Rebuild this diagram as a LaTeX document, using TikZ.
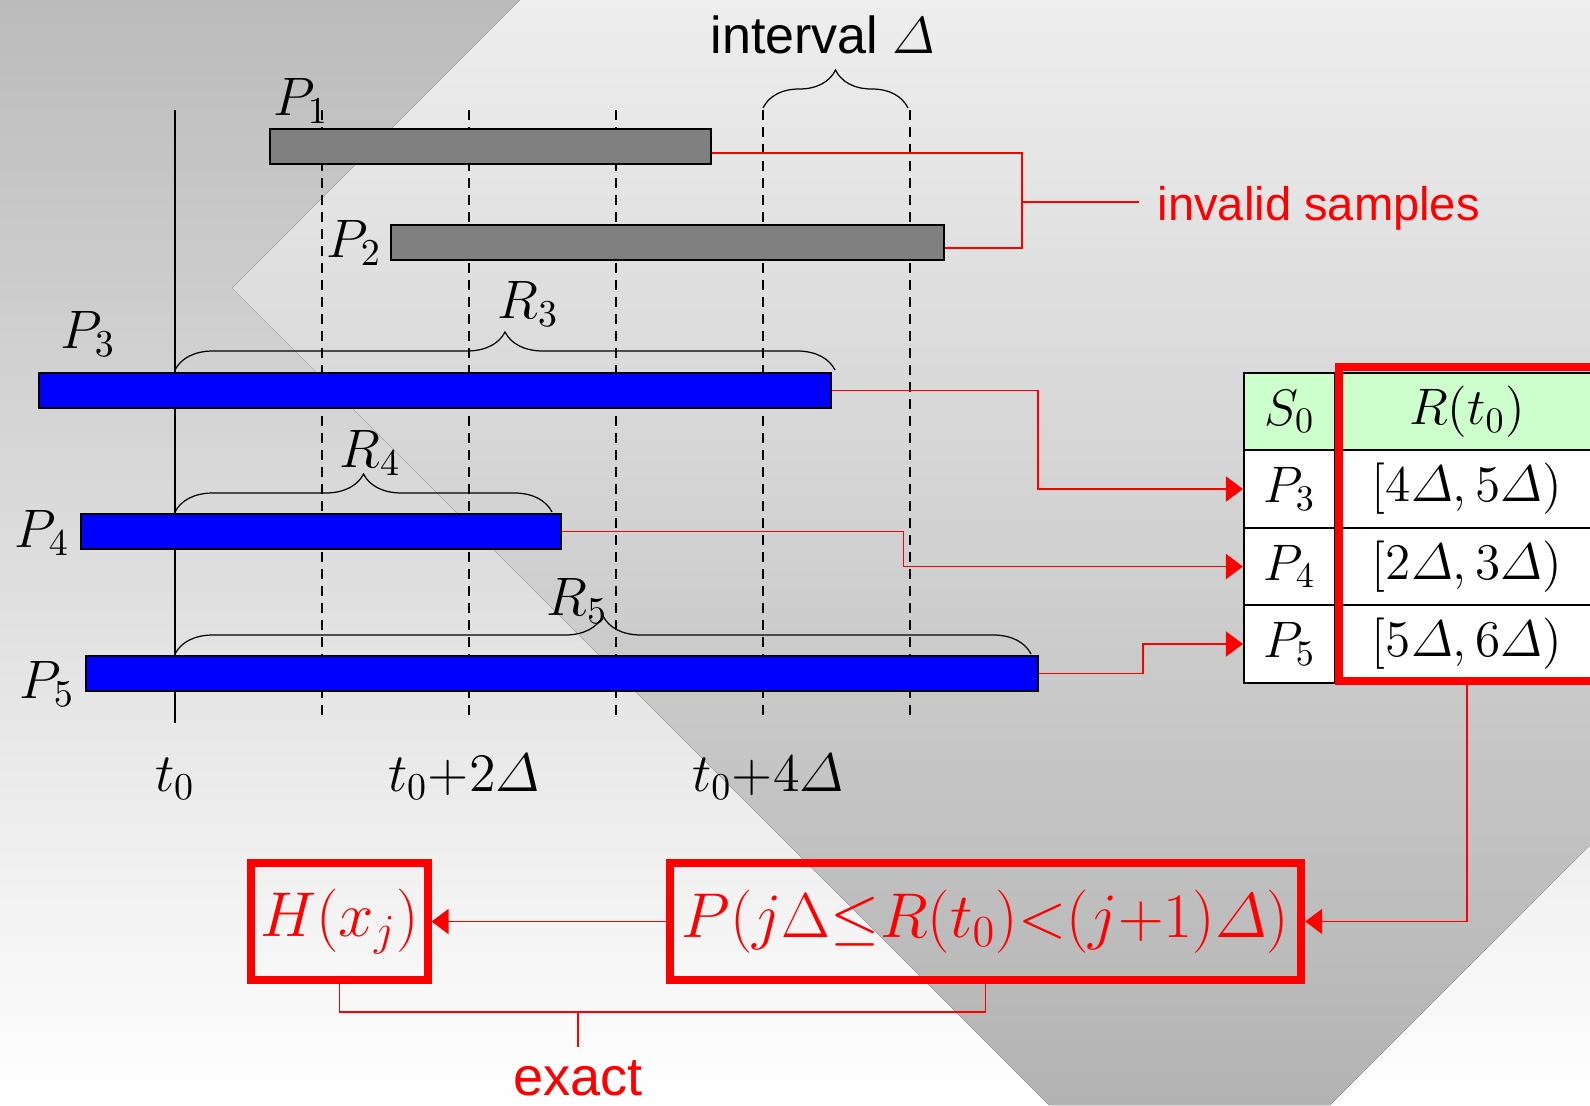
\RequirePackage{fix-cm}
\documentclass[tikz,border=0pt]{standalone}
\usepackage{amsmath}
\usepackage{fontspec}
\setsansfont{Liberation Sans}
\usetikzlibrary{arrows.meta,decorations.pathreplacing}

\definecolor{barblue}{HTML}{0000FF}
\definecolor{bargray}{HTML}{808080}
\definecolor{headgreen}{HTML}{CCFFCC}
\definecolor{hotred}{HTML}{FF0000}
\definecolor{bgdark}{HTML}{BBBBBB}
\definecolor{bglight}{HTML}{EEEEEE}
\definecolor{bgmid}{HTML}{C6C6C6}
\definecolor{bglow}{HTML}{B3B3B3}

\newcommand{\labelsize}{\fontsize{15.4}{18}\selectfont}
\newcommand{\tablesize}{\fontsize{14.6}{17}\selectfont}
\newcommand{\formsize}{\fontsize{18}{21}\selectfont}

\begin{document}
\begin{tikzpicture}[
                x=0.01cm,
                y=-0.01cm,
                badbar/.style={
                    draw,
                    line width=0.6pt,
                    fill=bargray,
                    inner sep=0pt,
                    minimum height=0.35cm
                },
                goodbar/.style={
                    badbar,
                    fill=barblue
                },
                axisline/.style={
                    line width=0.45pt
                },
                gridline/.style={
                    line width=0.45pt,
                    dash pattern=on 0.1cm off 0.07cm
                },
                spanbrace/.style={
                    decorate,
                    decoration={brace, amplitude=0.38cm},
                    line width=0.35pt
                },
                lbl/.style={
                    inner sep=0pt,
                    font=\labelsize
                },
                cell/.style={
                    draw,
                    line width=0.6pt,
                    fill=white,
                    minimum height=0.775cm,
                    inner sep=0pt,
                    font=\tablesize
                },
                link/.style={
                    hotred,
                    line width=0.55pt
                },
                feed/.style={
                    link,
                    -{Triangle[length=0.17cm, width=0.25cm]}
                },
                redbox/.style={
                    draw=hotred,
                    line width=0.08cm,
                    text=hotred,
                    inner sep=0pt,
                    minimum height=1.17cm,
                    font=\formsize
                },
                note/.style={
                    text=hotred,
                    font=\sffamily\fontsize{13.4}{16}\selectfont
                }
            ]

                \useasboundingbox (0,0) rectangle (1590,1105);
                \fill[top color=bgdark, bottom color=white] (0,0) rectangle (1590,1105);
                \fill[top color=bglight, middle color=bgmid, bottom color=bglow]
                    (520,0) -- (1590,0) -- (1590,845) -- (1330,1105) -- (1049,1105) -- (232,288) -- cycle;

                \draw[axisline] (175,110) -- (175,723);
                \draw[gridline] (322,110) -- (322,720);
                \draw[gridline] (469,110) -- (469,720);
                \draw[gridline] (616,110) -- (616,720);
                \draw[gridline] (763,110) -- (763,720);
                \draw[gridline] (910,110) -- (910,720);

                \draw[spanbrace] (763,108) -- (908,108);
                \draw[spanbrace] (175,370) -- (835,370);
                \draw[spanbrace] (175,512) -- (552,512);
                \draw[spanbrace] (175,654) -- (1031,654);

                \node[lbl, anchor=base, font=\sffamily\fontsize{14.8}{17}\selectfont] (interval) at (823,53) {interval $\varDelta$};

                \node[badbar, minimum width=4.41cm] (P1bar) at (490.5,146.5) {};
                \node[badbar, minimum width=5.53cm] (P2bar) at (667.5,242.5) {};
                \node[goodbar, minimum width=7.92cm] (P3bar) at (435,390.5) {};
                \node[goodbar, minimum width=4.80cm] (P4bar) at (321,531.5) {};
                \node[goodbar, minimum width=9.52cm] (P5bar) at (562,673.5) {};

                \node[lbl, anchor=base west] (P1lab) at (273,115) {$P_1$};
                \node[lbl, anchor=base west] (P2lab) at (326,257) {$P_2$};
                \node[lbl, anchor=base west] (P3lab) at (60,348) {$P_3$};
                \node[lbl, anchor=base west] (P4lab) at (14,547) {$P_4$};
                \node[lbl, anchor=base west] (P5lab) at (19,698) {$P_5$};

                \node[lbl, anchor=base west] (R3lab) at (497,318) {$R_3$};
                \node[lbl, anchor=base west] (R4lab) at (339,467) {$R_4$};
                \node[lbl, anchor=base west] (R5lab) at (546,615) {$R_5$};

                \node[lbl, anchor=base] (t0lab) at (175,791) {$t_0$};
                \node[lbl, anchor=base] (t2lab) at (464,791) {$t_0{+}2\varDelta$};
                \node[lbl, anchor=base] (t4lab) at (768,791) {$t_0{+}4\varDelta$};

                \node[cell, minimum width=0.91cm, fill=headgreen] (s0) at (1289.5,411.5) {$S_0$};
                \node[cell, minimum width=2.64cm, fill=headgreen] (r0) at (1467,411.5) {$R(t_0)$};
                \node[cell, minimum width=0.91cm] (s3) at (1289.5,489) {$P_3$};
                \node[cell, minimum width=2.64cm] (r3) at (1467,489) {$[4\varDelta, 5\varDelta)$};
                \node[cell, minimum width=0.91cm] (s4) at (1289.5,566.5) {$P_4$};
                \node[cell, minimum width=2.64cm] (r4) at (1467,566.5) {$[2\varDelta, 3\varDelta)$};
                \node[cell, minimum width=0.91cm] (s5) at (1289.5,644) {$P_5$};
                \node[cell, minimum width=2.64cm] (r5) at (1467,644) {$[5\varDelta, 6\varDelta)$};
                \draw[hotred, line width=0.08cm] ([shift={(0.05cm,0.05cm)}]r0.north west) rectangle ([yshift=0.03cm]r5.south east);

                \node[note, anchor=west, inner sep=0.18cm] (invalid) at (1139,208) {invalid samples};
                \coordinate (invjoin) at (1022,202);
                \draw[link] ([yshift=-0.065cm]P1bar.east) -| (invjoin) |- ([yshift=-0.055cm]P2bar.east);
                \draw[link] (invjoin) -- (invjoin -| invalid.west);

                \coordinate (k3) at (1038,0);
                \coordinate (k4) at (903.5,0);
                \coordinate (k5) at (1143,0);
                \draw[feed] (P3bar.east) -| (k3 |- s3.west) -- (s3.west);
                \draw[feed] (P4bar.east) -| (k4 |- s4.west) -- (s4.west);
                \draw[feed] (P5bar.east) -| (k5 |- s5.west) -- (s5.west);

                \node[redbox, minimum width=6.31cm] (probbox) at (985.5,921.5) {$P(j\Delta{\le}R(t_0){<}(j{+}1)\varDelta)$};
                \node[redbox, minimum width=1.76cm] (hbox) at (339.5,921.5) {$H(x_j)$};

                \draw[feed] (r5.south) |- (probbox.east);
                \draw[feed] (probbox.west) -- (hbox.east);

                \node[note, anchor=north, inner sep=0pt, font=\sffamily\fontsize{15.4}{18}\selectfont] (exact) at (578,1060) {exact};
                \coordinate (exactjoin) at (578,1012);
                \draw[link] (hbox.south) |- (exactjoin);
                \draw[link] (probbox.south) |- (exactjoin);
                \draw[link] (exactjoin) -- ([yshift=0.13cm]exact.north);

            \end{tikzpicture}
\end{document}
